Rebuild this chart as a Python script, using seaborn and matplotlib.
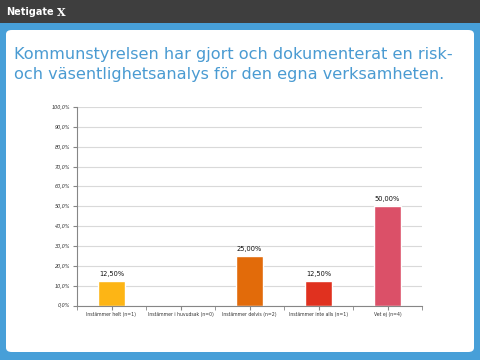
import matplotlib
matplotlib.use("Agg")
import matplotlib.pyplot as plt
import matplotlib.patches as mpatches
from matplotlib.ticker import FixedLocator
import seaborn as sns
import pandas as pd

# data
categories = ['Instämmer helt (n=1)', 'Instämmer i huvudsak (n=0)', 'Instämmer delvis (n=2)',
              'Instämmer inte alls (n=1)', 'Vet ej (n=4)']
values = [12.5, 0.0, 25.0, 12.5, 50.0]
bar_colors = ['#FDB515', '#A5A5A5', '#E26B0A', '#E0311F', '#DB5068']
yticks = [0, 10, 20, 30, 40, 50, 60, 70, 80, 90, 100]
title = 'Kommunstyrelsen har gjort och dokumenterat en risk-\noch väsentlighetsanalys för den egna verksamheten.'

df = pd.DataFrame({'Svar': categories, 'Andel': values})

sns.set_style('white')
fig = plt.figure(figsize=(4.8, 3.6), dpi=100)
fig.patch.set_facecolor('#479FD8')

# header bar och vit panel
fig.patches.append(mpatches.Rectangle((0, 1 - 23 / 360), 1, 23 / 360, transform=fig.transFigure,
                                      facecolor='#3E3E3E', edgecolor='none', zorder=0))
fig.patches.append(mpatches.FancyBboxPatch((6 / 480, 8 / 360), 468 / 480, 322 / 360,
                                           boxstyle='round,pad=0,rounding_size=0.012',
                                           transform=fig.transFigure, facecolor='white',
                                           edgecolor='none', zorder=0))
fig.text(6 / 480, 1 - 12 / 360, 'Netigate', color='white', fontsize=7, fontweight='bold',
         va='center', ha='left', zorder=1)
fig.text(57 / 480, 1 - 12 / 360, 'X', color='white', fontsize=8, fontweight='bold',
         family='DejaVu Serif', va='center', ha='left', zorder=1)
fig.text(14 / 480, 1 - 82 / 360, title, color='#4A9BD2', fontsize=11.6, ha='left', va='bottom',
         linespacing=1.4, zorder=1)

ax = fig.add_axes([77 / 480, 1 - 305.5 / 360, 345 / 480, 198.5 / 360])
ax.set_zorder(2)
sns.barplot(data=df, x='Svar', y='Andel', hue='Svar', palette=bar_colors, width=0.4,
            legend=False, ax=ax, saturation=1)

ax.set_ylim(0, 100)
ax.set_xlim(-0.5, len(categories) - 0.5)
ax.set_yticks(yticks)
ax.set_yticklabels([f'{v},0%' for v in yticks], fontsize=3.5, fontstyle='italic', color='#333333')
ax.set_xticks(range(len(categories)))
ax.set_xticklabels(categories, fontsize=3.3, color='#333333')
ax.xaxis.set_minor_locator(FixedLocator([i - 0.5 for i in range(len(categories) + 1)]))
ax.tick_params(axis='x', which='both', length=3, color='#868686', bottom=True, pad=2)
ax.tick_params(axis='y', length=3, color='#868686', left=True, pad=2)
ax.grid(axis='y', color='#D9D9D9', linewidth=0.8)
ax.set_axisbelow(True)
for s in ['top', 'right']:
    ax.spines[s].set_visible(False)
for s in ['left', 'bottom']:
    ax.spines[s].set_color('#868686')
    ax.spines[s].set_linewidth(0.8)
ax.set_xlabel('')
ax.set_ylabel('')

for i, v in enumerate(values):
    if v > 0:
        ax.text(i, v + 2, f'{v:.2f}%'.replace('.', ','), ha='center', va='bottom',
                fontsize=4.8, color='#111111')

fig.savefig('out.png', dpi=100, facecolor=fig.get_facecolor())
